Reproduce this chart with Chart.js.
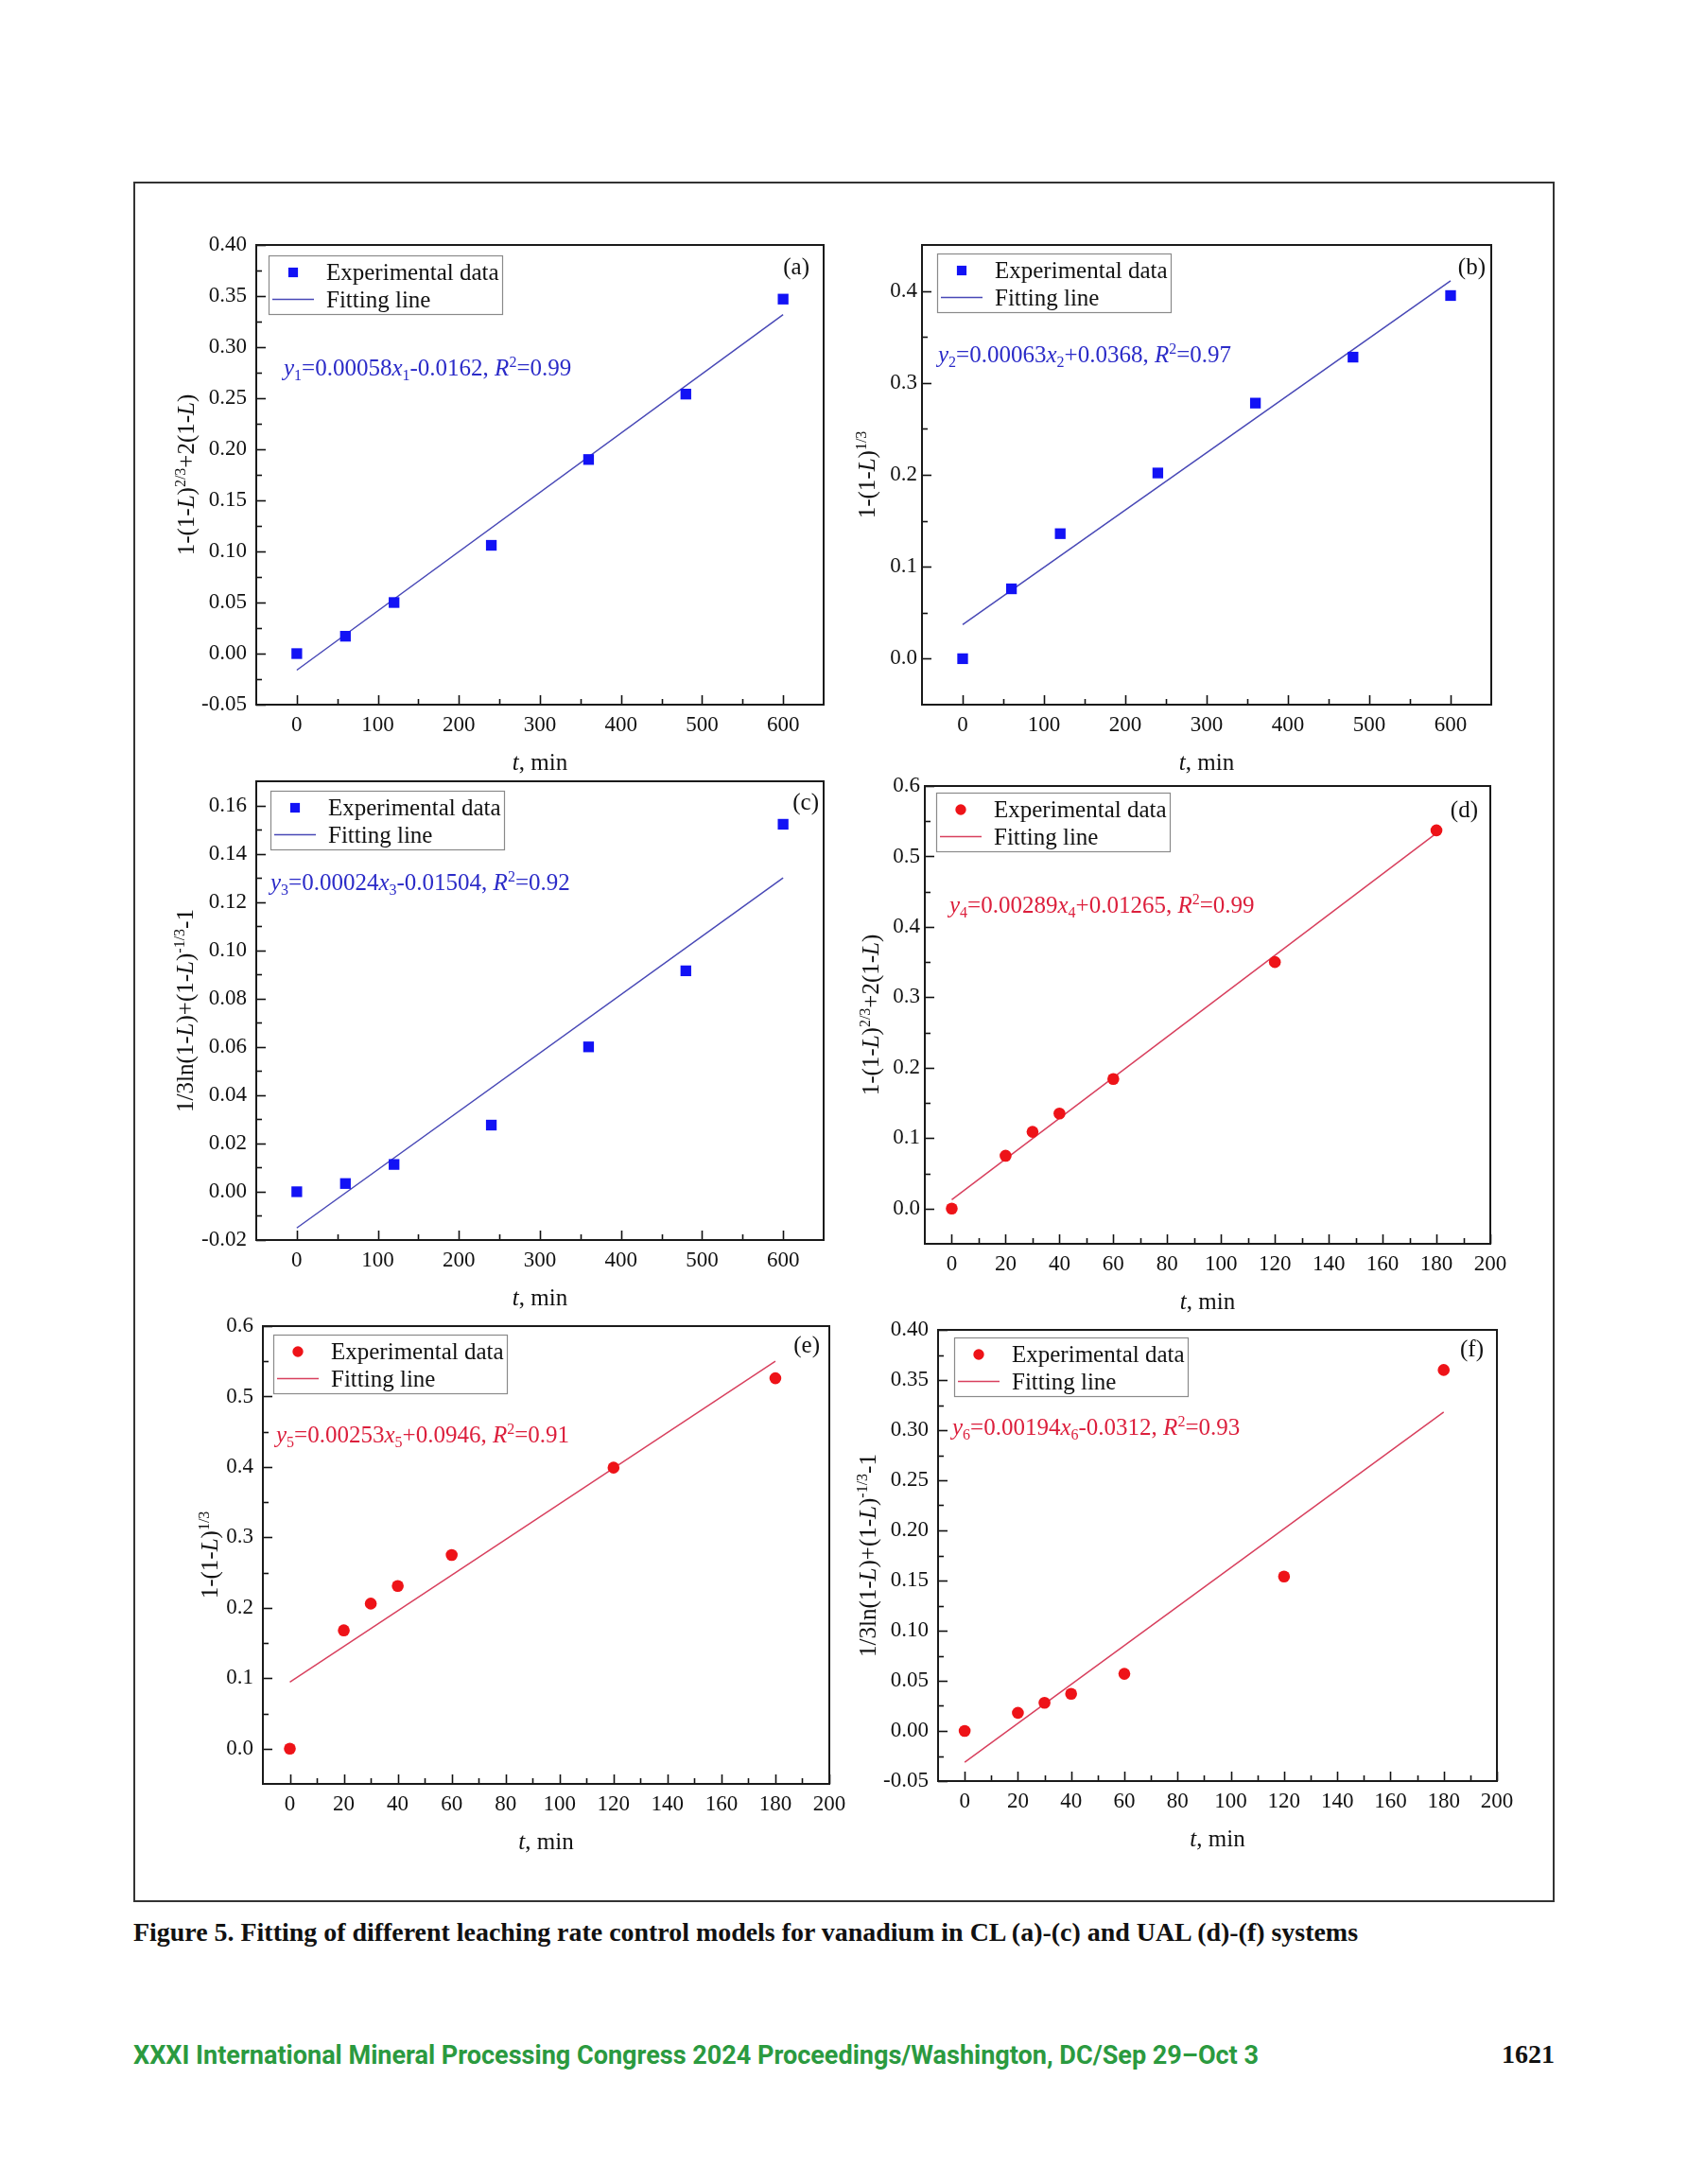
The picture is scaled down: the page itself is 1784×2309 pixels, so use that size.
<!DOCTYPE html>
<html><head><meta charset="utf-8">
<script src="https://cdn.jsdelivr.net/npm/chart.js@4.4.1/dist/chart.umd.min.js"></script>
<style>
html,body{margin:0;padding:0;background:#fff;}
body{width:1784px;height:2309px;position:relative;overflow:hidden;}
#frame{position:absolute;left:141px;top:192px;width:1503px;height:1819px;border:2px solid #333;box-sizing:border-box;}
canvas{position:absolute;}
.txt{position:absolute;white-space:nowrap;transform-origin:0 50%;line-height:30px;}
#caption{left:141px;top:2028px;font:bold 27px "Liberation Serif",serif;color:#111;}
#footer{left:141px;top:2156px;font:bold 28px Roboto,"Liberation Sans",sans-serif;color:#2b9a3f;}
#pageno{top:2156px;font:bold 28px "Liberation Serif",serif;color:#111;}
</style></head><body>
<div id="frame"></div>
<canvas id="pa"></canvas><canvas id="pb"></canvas><canvas id="pc"></canvas>
<canvas id="pd"></canvas><canvas id="pe"></canvas><canvas id="pf"></canvas>
<div id="caption" class="txt">Figure 5. Fitting of different leaching rate control models for vanadium in CL (a)-(c) and UAL (d)-(f) systems</div>
<div id="footer" class="txt">XXXI International Mineral Processing Congress 2024 Proceedings/Washington, DC/Sep 29–Oct 3</div>
<div id="pageno" class="txt">1621</div>
<script>
// ================= DATA =================
const timeCL  = [0, 60, 120, 240, 360, 480, 600];      // min, panels (a)-(c)
const timeUAL = [0, 20, 30, 40, 60, 120, 180];         // min, panels (d)-(f)

const valuesA = [0.000, 0.017, 0.050, 0.106, 0.190, 0.254, 0.347];
const valuesB = [0.000, 0.076, 0.136, 0.202, 0.278, 0.328, 0.395];
const valuesC = [0.000, 0.0034, 0.0113, 0.0276, 0.0600, 0.0915, 0.1522];
const valuesD = [0.000, 0.075, 0.109, 0.135, 0.184, 0.350, 0.537];
const valuesE = [0.000, 0.168, 0.206, 0.231, 0.275, 0.399, 0.526];
const valuesF = [0.000, 0.018, 0.028, 0.037, 0.057, 0.154, 0.360];

// fitting-line end points (x from fitXCL / fitXUAL)
const fitXCL  = [0, 600];
const fitXUAL = [0, 180];
const fitA = [-0.0162, 0.3318];
const fitB = [0.037, 0.411];
const fitC = [-0.015, 0.130];
const fitD = [0.0127, 0.533];
const fitE = [0.0946, 0.550];
const fitF = [-0.0312, 0.318];

// equation texts
const eqSlopes     = ['0.00058', '0.00063', '0.00024', '0.00289', '0.00253', '0.00194'];
const eqIntercepts = ['-0.0162', '+0.0368', '-0.01504', '+0.01265', '+0.0946', '-0.0312'];
const eqR2         = ['0.99', '0.97', '0.92', '0.99', '0.91', '0.93'];

const seriesLabels = ['Experimental data', 'Fitting line'];
const panelLabels  = ['(a)', '(b)', '(c)', '(d)', '(e)', '(f)'];
const xTitle = [['t', 'i'], [', min']];
const yTitle23 = [['1-(1-'], ['L', 'i'], [')'], ['2/3', 'sup'], ['+2(1-'], ['L', 'i'], [')']];
const yTitle13 = [['1-(1-'], ['L', 'i'], [')'], ['1/3', 'sup']];
const yTitleLn = [['1/3ln(1-'], ['L', 'i'], [')+(1-'], ['L', 'i'], [')'], ['-1/3', 'sup'], ['-1']];

// tick values
const xTicksCL  = [0, 100, 200, 300, 400, 500, 600];
const xMinorCL  = [50, 150, 250, 350, 450, 550];
const xTicksUAL = [0, 20, 40, 60, 80, 100, 120, 140, 160, 180, 200];
const xMinorUAL = [10, 30, 50, 70, 90, 110, 130, 150, 170, 190];
const yTicksA = [-0.05, 0.00, 0.05, 0.10, 0.15, 0.20, 0.25, 0.30, 0.35, 0.40];
const yMinorA = [-0.025, 0.025, 0.075, 0.125, 0.175, 0.225, 0.275, 0.325, 0.375];
const yTicksB = [0.0, 0.1, 0.2, 0.3, 0.4];
const yMinorB = [0.05, 0.15, 0.25, 0.35];
const yTicksC = [-0.02, 0.00, 0.02, 0.04, 0.06, 0.08, 0.10, 0.12, 0.14, 0.16];
const yMinorC = [-0.01, 0.01, 0.03, 0.05, 0.07, 0.09, 0.11, 0.13, 0.15];
const yTicksD = [0.0, 0.1, 0.2, 0.3, 0.4, 0.5, 0.6];
const yMinorD = [0.05, 0.15, 0.25, 0.35, 0.45, 0.55];
const yTicksF = [-0.05, 0.00, 0.05, 0.10, 0.15, 0.20, 0.25, 0.30, 0.35, 0.40];
const yMinorF = [-0.025, 0.025, 0.075, 0.125, 0.175, 0.225, 0.275, 0.325, 0.375];

const xRangeCL = [-50, 650], xRangeUAL = [-10, 200];
const yRangeA = [-0.05, 0.40], yRangeB = [-0.05, 0.45], yRangeC = [-0.02, 0.17];
const yRangeD = [-0.05, 0.60], yRangeE = [-0.05, 0.60], yRangeF = [-0.05, 0.40];

// ================= STYLE / LAYOUT =================
const BLUE = {pt: '#1212f5', line: '#4848b6', text: '#2b2bc8', style: 'rect', r: 8};
const RED  = {pt: '#ee1318', line: '#d8405e', text: '#dc1f3c', style: 'circle', r: 6.3};
const SERIF = '"Liberation Serif", "Times New Roman", serif';

const panels = [
  {id:'pa', l:271, t:259, r:871, b:745, x:timeCL, y:valuesA, fx:fitXCL, fy:fitA, xr:xRangeCL, yr:yRangeA, xt:xTicksCL, xm:xMinorCL, yt:yTicksA, ym:yMinorA, dec:2, yTitle:yTitle23, c:BLUE,
   tickPad:10, yTitleDx:-74, leg:{dx:13, dy:11}, lab:{dxr:15, dy:23}, eq:{dx:29, dy:130}},
  {id:'pb', l:975, t:259, r:1577, b:745, x:timeCL, y:valuesB, fx:fitXCL, fy:fitB, xr:xRangeCL, yr:yRangeB, xt:xTicksCL, xm:xMinorCL, yt:yTicksB, ym:yMinorB, dec:1, yTitle:yTitle13, c:BLUE,
   tickPad:5, yTitleDx:-58, leg:{dx:16, dy:9}, lab:{dxr:6, dy:23}, eq:{dx:17, dy:116}},
  {id:'pc', l:271, t:826, r:871, b:1311, x:timeCL, y:valuesC, fx:fitXCL, fy:fitC, xr:xRangeCL, yr:yRangeC, xt:xTicksCL, xm:xMinorCL, yt:yTicksC, ym:yMinorC, dec:2, yTitle:yTitleLn, c:BLUE,
   tickPad:10, yTitleDx:-75, leg:{dx:15, dy:10}, lab:{dxr:5, dy:22}, eq:{dx:15, dy:107}},
  {id:'pd', l:978, t:831, r:1576, b:1315, x:timeUAL, y:valuesD, fx:fitXUAL, fy:fitD, xr:xRangeUAL, yr:yRangeD, xt:xTicksUAL, xm:xMinorUAL, yt:yTicksD, ym:yMinorD, dec:1, yTitle:yTitle23, c:RED,
   tickPad:5, yTitleDx:-57, leg:{dx:12, dy:7}, lab:{dxr:13, dy:25}, eq:{dx:26, dy:126}},
  {id:'pe', l:278, t:1402, r:877, b:1886, x:timeUAL, y:valuesE, fx:fitXUAL, fy:fitE, xr:xRangeUAL, yr:yRangeE, xt:xTicksUAL, xm:xMinorUAL, yt:yTicksD, ym:yMinorD, dec:1, yTitle:yTitle13, c:RED,
   tickPad:10, yTitleDx:-56, leg:{dx:11, dy:9}, lab:{dxr:10, dy:20}, eq:{dx:14, dy:115}},
  {id:'pf', l:992, t:1406, r:1583, b:1883, x:timeUAL, y:valuesF, fx:fitXUAL, fy:fitF, xr:xRangeUAL, yr:yRangeF, xt:xTicksUAL, xm:xMinorUAL, yt:yTicksF, ym:yMinorF, dec:2, yTitle:yTitleLn, c:RED,
   tickPad:10, yTitleDx:-74, leg:{dx:17, dy:8}, lab:{dxr:14, dy:20}, eq:{dx:15, dy:103}},
];

const M = {l:120, t:30, r:45, b:90};   // canvas margins around the plot area
const YW = 60, XH = 40;

function drawRich(ctx, segs, x, yBase, size, color, align) {
  const parts = segs.map(s => {
    const small = s[1] === 'sup' || s[1] === 'sub';
    const fs = small ? size * 0.64 : size;
    const font = (s[1] === 'i' ? 'italic ' : '') + fs + 'px ' + SERIF;
    ctx.font = font;
    return {t: s[0], font, w: ctx.measureText(s[0]).width,
            dy: s[1] === 'sup' ? -size * 0.38 : (s[1] === 'sub' ? size * 0.2 : 0)};
  });
  const total = parts.reduce((a, p) => a + p.w, 0);
  let cx = align === 'center' ? x - total / 2 : (align === 'right' ? x - total : x);
  ctx.fillStyle = color;
  ctx.textBaseline = 'alphabetic';
  ctx.textAlign = 'left';
  parts.forEach(p => { ctx.font = p.font; ctx.fillText(p.t, cx, yBase + p.dy); cx += p.w; });
}

function drawMarker(ctx, style, r, x, y, color) {
  ctx.fillStyle = color;
  if (style === 'rect') {
    const s = r * Math.SQRT1_2;
    ctx.fillRect(x - s, y - s, 2 * s, 2 * s);
  } else {
    ctx.beginPath(); ctx.arc(x, y, r, 0, Math.PI * 2); ctx.fill();
  }
}

const decoPlugin = {
  id: 'deco',
  afterDatasetsDraw(chart, args, o) {
    const p = o.panel, idx = o.index;
    const ctx = chart.ctx, ca = chart.chartArea;
    const xs = chart.scales.x, ys = chart.scales.y;
    ctx.save();
    // inward ticks
    ctx.strokeStyle = '#111'; ctx.lineWidth = 1.6;
    const tick = (x1, y1, x2, y2) => { ctx.beginPath(); ctx.moveTo(x1, y1); ctx.lineTo(x2, y2); ctx.stroke(); };
    p.xt.forEach(v => { const px = Math.round(xs.getPixelForValue(v)) + 0.5; tick(px, ca.bottom, px, ca.bottom - 10); });
    p.xm.forEach(v => { const px = Math.round(xs.getPixelForValue(v)) + 0.5; tick(px, ca.bottom, px, ca.bottom - 6); });
    p.yt.forEach(v => { const py = Math.round(ys.getPixelForValue(v)) + 0.5; tick(ca.left, py, ca.left + 10, py); });
    p.ym.forEach(v => { const py = Math.round(ys.getPixelForValue(v)) + 0.5; tick(ca.left, py, ca.left + 6, py); });
    // frame
    ctx.lineWidth = 2; ctx.strokeStyle = '#1a1a1a';
    ctx.strokeRect(ca.left, ca.top, ca.right - ca.left, ca.bottom - ca.top);

    // legend
    const ds = chart.data.datasets;
    const lx = ca.left + p.leg.dx, ly = ca.top + p.leg.dy;
    ctx.lineWidth = 1.2; ctx.strokeStyle = '#8a8a8a';
    ctx.strokeRect(lx + 0.5, ly + 0.5, 247, 62);
    drawMarker(ctx, p.c.style, p.c.r * 0.9, lx + 26, ly + 18, ds[0].backgroundColor);
    ctx.strokeStyle = ds[1].borderColor; ctx.lineWidth = 1.5;
    tick(lx + 4, ly + 46.5, lx + 48, ly + 46.5);
    drawRich(ctx, [[ds[0].label]], lx + 61, ly + 18 + 8, 25, '#111', 'left');
    drawRich(ctx, [[ds[1].label]], lx + 61, ly + 47 + 8, 25, '#111', 'left');

    // panel label
    drawRich(ctx, [[panelLabels[idx]]], ca.right - p.lab.dxr, ca.top + p.lab.dy + 8, 25, '#111', 'right');

    // equation
    const n = String(idx + 1);
    const eq = [['y', 'i'], [n, 'sub'], ['=' + eqSlopes[idx]], ['x', 'i'], [n, 'sub'],
                [eqIntercepts[idx] + ', '], ['R', 'i'], ['2', 'sup'], ['=' + eqR2[idx]]];
    drawRich(ctx, eq, ca.left + p.eq.dx, ca.top + p.eq.dy + 8, 25, p.c.text, 'left');

    // axis titles
    drawRich(ctx, xTitle, (ca.left + ca.right) / 2, ca.bottom + 61 + 8, 25, '#111', 'center');
    ctx.save();
    ctx.translate(ca.left + p.yTitleDx, (ca.top + ca.bottom) / 2);
    ctx.rotate(-Math.PI / 2);
    drawRich(ctx, p.yTitle, 0, 8, 25, '#111', 'center');
    ctx.restore();
    ctx.restore();
  }
};

panels.forEach((p, idx) => {
  const cv = document.getElementById(p.id);
  const w = (p.r - p.l) + M.l + M.r, h = (p.b - p.t) + M.t + M.b;
  cv.width = w; cv.height = h;
  cv.style.left = (p.l - M.l) + 'px'; cv.style.top = (p.t - M.t) + 'px';
  cv.style.width = w + 'px'; cv.style.height = h + 'px';
  new Chart(cv, {
    type: 'scatter',
    data: {
      datasets: [
        {label: seriesLabels[0], data: p.x.map((v, i) => ({x: v, y: p.y[i]})),
         pointStyle: p.c.style, pointRadius: p.c.r, pointHoverRadius: p.c.r,
         backgroundColor: p.c.pt, borderColor: p.c.pt, pointBorderWidth: 0, order: 1},
        {label: seriesLabels[1], data: p.fx.map((v, i) => ({x: v, y: p.fy[i]})),
         showLine: true, pointRadius: 0, borderColor: p.c.line, backgroundColor: p.c.line,
         borderWidth: 1.5, fill: false, order: 2}
      ]
    },
    options: {
      responsive: false, animation: false, devicePixelRatio: 1,
      layout: {padding: {left: M.l - YW, top: M.t, right: M.r, bottom: M.b - XH}},
      plugins: {legend: {display: false}, tooltip: {enabled: false}, title: {display: false},
                deco: {panel: p, index: idx}},
      scales: {
        x: {type: 'linear', min: p.xr[0], max: p.xr[1],
            grid: {display: false, drawTicks: false}, border: {display: false},
            afterBuildTicks: s => { s.ticks = p.xt.map(v => ({value: v})); },
            afterFit: s => { s.height = XH; },
            ticks: {autoSkip: false, maxRotation: 0, padding: 8, color: '#111',
                    font: {family: SERIF, size: 23}, callback: v => String(v)}},
        y: {type: 'linear', min: p.yr[0], max: p.yr[1],
            grid: {display: false, drawTicks: false}, border: {display: false},
            afterBuildTicks: s => { s.ticks = p.yt.map(v => ({value: v})); },
            afterFit: s => { s.width = YW; },
            ticks: {autoSkip: false, padding: p.tickPad, color: '#111',
                    font: {family: SERIF, size: 23}, callback: v => Number(v).toFixed(p.dec)}}
      }
    },
    plugins: [decoPlugin]
  });
});

function fit(id, target) {
  const el = document.getElementById(id);
  const w = el.getBoundingClientRect().width;
  el.style.transform = 'scaleX(' + (target / w) + ')';
}
fit('caption', 1295);
fit('footer', 1190);
const pn = document.getElementById('pageno');
pn.style.left = (1644 - pn.getBoundingClientRect().width) + 'px';
</script>
</body></html>
